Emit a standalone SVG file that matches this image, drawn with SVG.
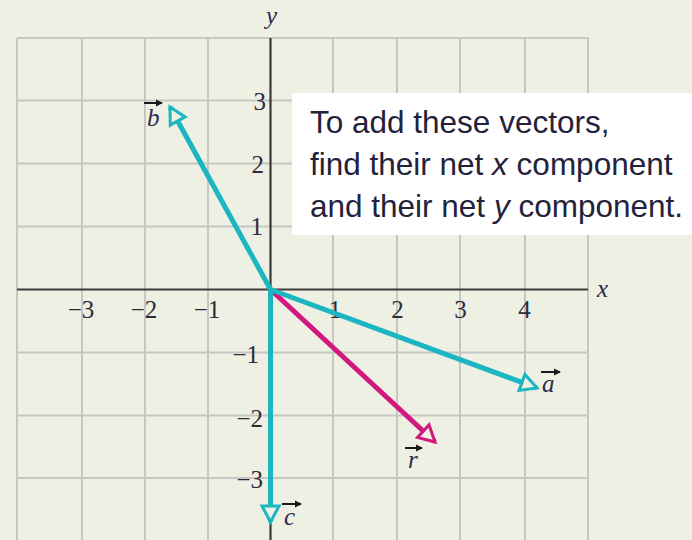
<svg xmlns="http://www.w3.org/2000/svg" width="692" height="540" viewBox="0 0 692 540">
  <defs>
    <style>
      .grid { stroke: #c6c7c4; stroke-width: 2; fill: none; }
      .axis { stroke: #3a3a3a; stroke-width: 2.2; fill: none; }
      .tick { font-family: "Liberation Serif", "Times New Roman", serif; font-size: 25px; fill: #2e2a3c; }
      .var { font-family: "Liberation Serif", "Times New Roman", serif; font-style: italic; font-size: 25px; fill: #2e2a4a; }
      .note { font-family: "Liberation Sans", Arial, sans-serif; font-size: 31.5px; fill: #24223a; }
      .vec { stroke: #1bb6c1; stroke-width: 5; fill: none; }
      .vecr { stroke: #d2177f; stroke-width: 5; fill: none; }
      .over { stroke: #1a1a1a; stroke-width: 2; fill: none; }
    </style>
    <marker id="headC" markerUnits="userSpaceOnUse" viewBox="-20 -12 24 24" refX="0" refY="0" markerWidth="24" markerHeight="24" orient="auto">
      <path d="M0,0 L-16,-8.5 L-16,8.5 Z" fill="#edf0e3" stroke="#1bb6c1" stroke-width="3" stroke-linejoin="miter"/>
    </marker>
    <marker id="headR" markerUnits="userSpaceOnUse" viewBox="-20 -12 24 24" refX="0" refY="0" markerWidth="24" markerHeight="24" orient="auto">
      <path d="M0,0 L-16,-8.5 L-16,8.5 Z" fill="#edf0e3" stroke="#d2177f" stroke-width="3" stroke-linejoin="miter"/>
    </marker>
    <marker id="small" markerUnits="userSpaceOnUse" viewBox="-8 -5 10 10" refX="0" refY="0" markerWidth="10" markerHeight="10" orient="auto">
      <path d="M1,0 L-6,-3.5 L-6,3.5 Z" fill="#1a1a1a"/>
    </marker>
  </defs>

  <rect x="0" y="0" width="692" height="540" fill="#edf0e3"/>

  <g id="grid">
    <path class="grid" d="M17,38 V540 M82,38 V540 M145,38 V540 M208,38 V540 M333,38 V540 M397,38 V540 M460,38 V540 M525,38 V540 M588,38 V540"/>
    <path class="grid" d="M17,38 H588 M17,100.5 H588 M17,163.5 H588 M17,226.5 H588 M17,352.5 H588 M17,415.5 H588 M17,478 H588"/>
  </g>

  <g id="axes">
    <path class="axis" d="M17,289.5 H588"/>
    <path class="axis" d="M270.5,38 V540"/>
    <text class="var" x="266" y="24">y</text>
    <text class="var" x="597" y="297">x</text>
  </g>

  <g id="ticks">
    <text class="tick" x="81" y="318" text-anchor="middle">−3</text>
    <text class="tick" x="144" y="318" text-anchor="middle">−2</text>
    <text class="tick" x="207" y="318" text-anchor="middle">−1</text>
    <text class="tick" x="335" y="318" text-anchor="middle">1</text>
    <text class="tick" x="397.5" y="318" text-anchor="middle">2</text>
    <text class="tick" x="460.5" y="318" text-anchor="middle">3</text>
    <text class="tick" x="524.5" y="318" text-anchor="middle">4</text>
    <text class="tick" x="266" y="110" text-anchor="end">3</text>
    <text class="tick" x="264" y="173" text-anchor="end">2</text>
    <text class="tick" x="263" y="235" text-anchor="end">1</text>
    <text class="tick" x="259" y="363" text-anchor="end">−1</text>
    <text class="tick" x="263" y="427" text-anchor="end">−2</text>
    <text class="tick" x="263" y="488" text-anchor="end">−3</text>
  </g>

  <g id="note">
    <rect x="292" y="93" width="400" height="142" fill="#ffffff"/>
    <text class="note" x="310" y="133">To add these vectors,</text>
    <text class="note" x="310" y="175">find their net <tspan font-style="italic">x</tspan> component</text>
    <text class="note" x="310" y="217">and their net <tspan font-style="italic">y</tspan> component.</text>
  </g>

  <g id="connectors">
    <line id="vec-r" class="vecr" x1="270.5" y1="289.5" x2="435" y2="442" marker-end="url(#headR)"/>
    <line id="vec-a" class="vec" x1="270.5" y1="289.5" x2="537" y2="388" marker-end="url(#headC)"/>
    <line id="vec-b" class="vec" x1="270.5" y1="289.5" x2="170" y2="107" marker-end="url(#headC)"/>
    <line id="vec-c" class="vec" x1="270.5" y1="289.5" x2="270.5" y2="522" marker-end="url(#headC)"/>
  </g>

  <g id="label-a">
    <line class="over" x1="541" y1="372" x2="560" y2="372" marker-end="url(#small)"/>
    <text class="var" x="542" y="392">a</text>
  </g>
  <g id="label-b">
    <line class="over" x1="144" y1="103" x2="162" y2="103" marker-end="url(#small)"/>
    <text class="var" x="147" y="126">b</text>
  </g>
  <g id="label-c">
    <line class="over" x1="282" y1="504" x2="301" y2="504" marker-end="url(#small)"/>
    <text class="var" x="284" y="525">c</text>
  </g>
  <g id="label-r">
    <line class="over" x1="405" y1="448" x2="422" y2="448" marker-end="url(#small)"/>
    <text class="var" x="408" y="468">r</text>
  </g>
</svg>
